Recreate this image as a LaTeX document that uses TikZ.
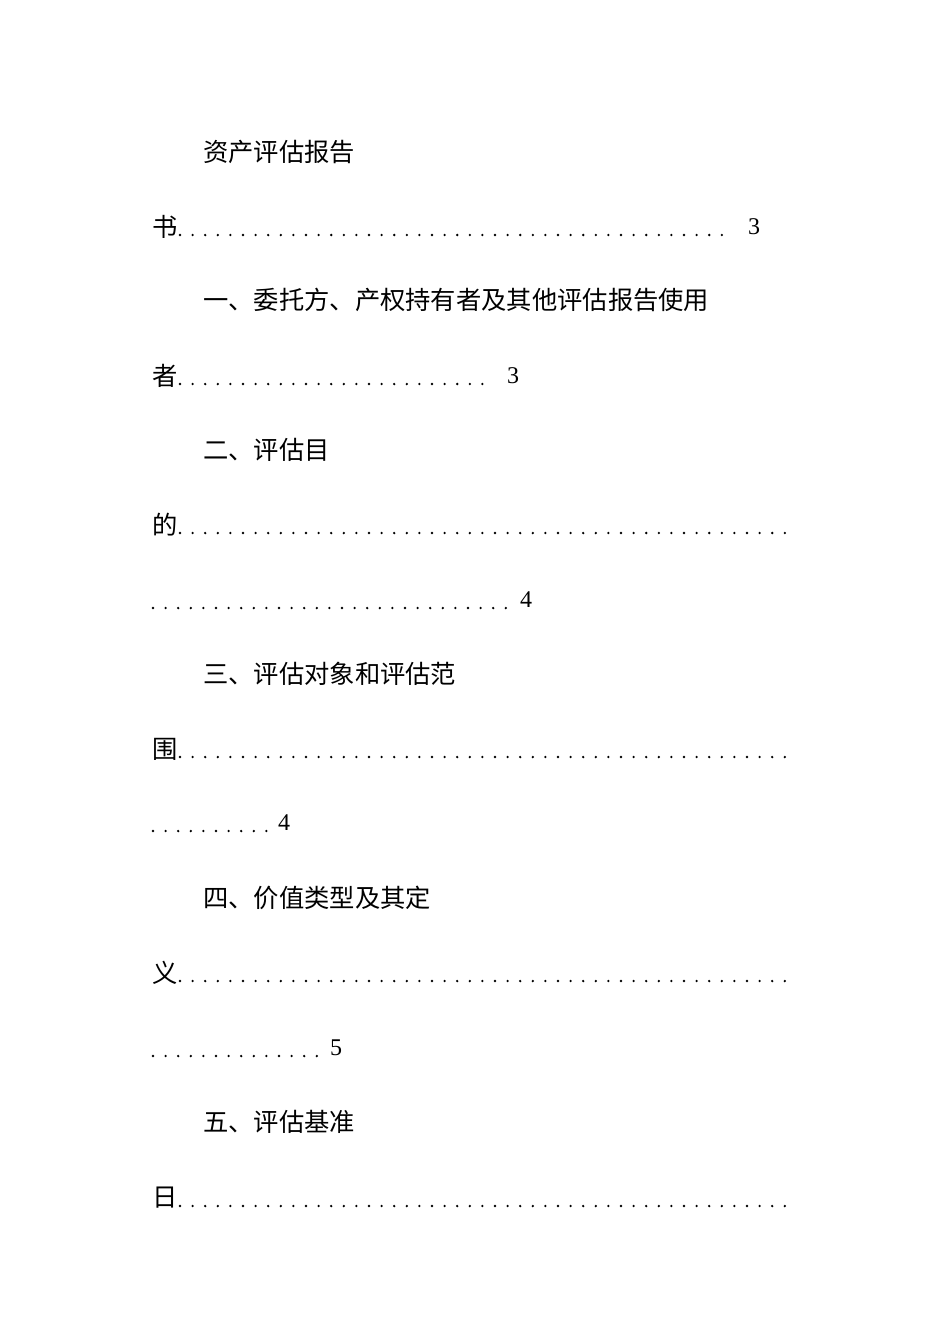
\documentclass[tikz,border=0pt]{standalone}
\usepackage{fontspec}
\setmainfont{Liberation Serif}
\newfontfamily\cjk{Noto Sans CJK SC}
\begin{document}
\begin{tikzpicture}[x=1pt,y=-1pt,
  txt/.style={anchor=west,inner sep=0pt,font=\cjk\fontsize{25.3}{25.3}\selectfont},
  num/.style={anchor=west,inner sep=0pt,font=\fontsize{24}{24}\selectfont}]
\useasboundingbox (0,0) rectangle (950,1344);
\newcommand{\dotrow}[4]{\foreach \xx in {#1,#2,...,#3}{\fill (\xx,#4) circle (1.3);}}
\node[txt] (l1) at (203,152) {资产评估报告};
\node[txt] (l2) at (152,227) {书};
\dotrow{180}{192.6}{730}{235}
\node[num] (n2) at (748,227) {3};
\node[txt] (l3) at (203,300) {一、委托方、产权持有者及其他评估报告使用};
\node[txt] (l4) at (152,376) {者};
\dotrow{180}{192.6}{490}{384}
\node[num] (n4) at (507,376) {3};
\node[txt] (l5) at (203,450) {二、评估目};
\node[txt] (l6) at (152,525) {的};
\dotrow{180}{192.6}{795}{533}
\dotrow{153}{165.6}{512}{608}
\node[num] (n7) at (520,600) {4};
\node[txt] (l8) at (203,674) {三、评估对象和评估范};
\node[txt] (l9) at (152,749) {围};
\dotrow{180}{192.6}{795}{757}
\dotrow{153}{165.6}{270}{831}
\node[num] (n10) at (278,823) {4};
\node[txt] (l11) at (203,898) {四、价值类型及其定};
\node[txt] (l12) at (152,973) {义};
\dotrow{180}{192.6}{795}{981}
\dotrow{153}{165.6}{322}{1056}
\node[num] (n13) at (330,1048) {5};
\node[txt] (l14) at (203,1122) {五、评估基准};
\node[txt] (l15) at (152,1198) {日};
\dotrow{180}{192.6}{795}{1206}
\end{tikzpicture}
\end{document}
